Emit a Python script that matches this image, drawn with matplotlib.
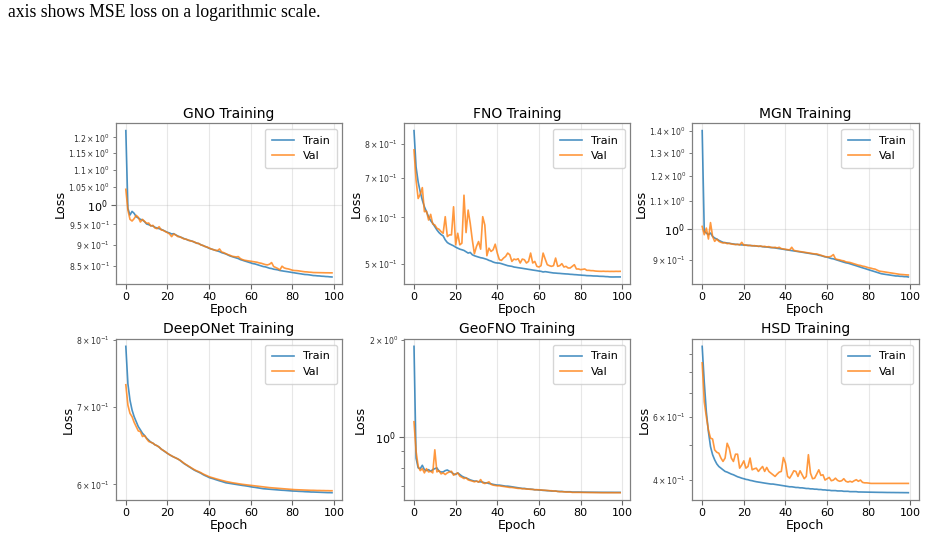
import matplotlib
matplotlib.use("Agg")
import matplotlib.pyplot as plt
import numpy as np

epochs = list(range(100))

models = ["GNO", "FNO", "MGN", "DeepONet", "GeoFNO", "HSD"]

gno_train = [1.222, .992, .9744, .984, .9788, .970, .9666, .9632, .9615, .9572,
             .9512, .9495, .947, .9461, .9428, .9411, .9394, .9377, .9352, .9327,
             .9302, .9286, .9261, .9269, .9236, .9211, .9187, .917, .9146, .913,
             .9105, .9097, .9081, .9056, .904, .9024, .900, .8976, .896, .8936,
             .8912, .8896, .888, .8864, .8849, .8833, .8809, .8794, .8778, .8755,
             .8731, .8716, .870, .8685, .867, .8646, .8631, .8615, .860, .8585,
             .857, .8554, .8546, .8531, .8516, .8501, .8486, .8479, .8464, .8448,
             .8441, .8426, .8419, .8411, .8396, .8389, .8381, .8374, .8367, .8359,
             .8351, .8344, .8336, .8329, .8322, .8314, .8307, .8305, .830, .8292,
             .8284, .8282, .8277, .8275, .8269, .8267, .8262, .8260, .8255, .8252]
gno_val = [1.044, .9876, .9632, .9589, .965, .9736, .9684, .9563, .9632, .958,
           .9529, .9538, .9461, .9478, .9411, .9394, .9444, .936, .9352, .9319,
           .9294, .9261, .9195, .9261, .9236, .9195, .9192, .9162, .9138, .913,
           .9113, .9089, .9081, .9065, .9032, .9030, .8992, .8984, .8952, .8944,
           .892, .8896, .888, .8864, .8857, .8896, .8825, .8809, .8786, .8763,
           .8747, .8724, .8716, .8708, .8716, .867, .8646, .8631, .8623, .8615,
           .8608, .860, .8592, .8585, .857, .8562, .8546, .8531, .8524, .8539,
           .8577, .8486, .8464, .8441, .8411, .8494, .8456, .8441, .8433, .8419,
           .8403, .8396, .8394, .8389, .8381, .8374, .8367, .8365, .8359, .8357,
           .8351, .8350, .8349, .8348, .8347, .8346, .8345, .8345, .8344, .8344]

fno_train = [.8428, .731, .6893, .6631, .642, .6256, .6136, .6018, .5925, .5864,
             .5788, .5714, .5655, .5612, .5582, .5496, .5439, .5411, .539, .5369,
             .5341, .532, .530, .5287, .5273, .5246, .5219, .5232, .5185, .5165,
             .5151, .5138, .5125, .5118, .5105, .5092, .5072, .5059, .5039, .5026,
             .502, .5018, .5007, .4994, .4981, .4968, .4961, .4955, .4942, .4936,
             .4929, .4923, .4917, .491, .4904, .4897, .4891, .4884, .4878, .4872,
             .4865, .4859, .4847, .4853, .4847, .484, .4834, .4828, .4826, .4822,
             .4820, .4816, .4813, .481, .4808, .4803, .4801, .4797, .4795, .4791,
             .4789, .4785, .4783, .4778, .4777, .4776, .4772, .4771, .4770, .4766,
             .4765, .4764, .476, .4759, .4754, .4753, .4753, .4754, .4754, .4754]
fno_val = [.7816, .6938, .6462, .6571, .6743, .6136, .6152, .594, .6073, .5848,
           .5826, .5751, .5729, .5677, .564, .6018, .5568, .5604, .5604, .6256,
           .539, .564, .539, .5425, .6546, .5655, .6176, .5864, .5496, .5205,
           .5355, .546, .530, .6018, .5826, .5165, .532, .5253, .5287, .5404,
           .5219, .5085, .5072, .5118, .5151, .5219, .5185, .5052, .5098, .5085,
           .5105, .502, .5098, .5085, .502, .5052, .5219, .502, .5052, .4955,
           .4942, .4968, .5219, .5098, .4987, .4968, .4955, .4968, .5118, .4955,
           .4968, .5007, .4942, .4955, .4923, .4923, .4955, .4987, .4904, .4904,
           .4891, .4897, .4904, .4878, .4878, .4872, .4872, .4865, .4862, .4860,
           .4859, .4861, .4858, .4859, .4857, .4858, .4857, .4859, .4858, .4859]

mgn_train = [1.403, .9914, .986, .9803, .986, .9747, .9691, .9659, .9615, .9581,
             .9549, .9538, .9527, .9516, .9505, .9495, .9485, .948, .9474, .9464,
             .9464, .9453, .9453, .9442, .9442, .9431, .9431, .9419, .9419, .9409,
             .9398, .9398, .9388, .9377, .9377, .9366, .9355, .9345, .9334, .9323,
             .9312, .9302, .9291, .9281, .9271, .9261, .925, .924, .9229, .9219,
             .9208, .9197, .9186, .9176, .9165, .9155, .9134, .9123, .9103, .9083,
             .9073, .9052, .9031, .9021, .900, .8979, .8959, .8938, .8918, .8899,
             .8888, .8868, .8848, .8828, .8808, .8787, .8767, .8747, .8728, .8708,
             .8688, .8668, .8649, .863, .861, .8591, .8571, .8561, .8551, .8542,
             .8533, .8523, .8514, .8504, .8504, .8494, .8494, .8485, .8485, .8475]
mgn_val = [1.0087, .9803, 1.0029, .9659, 1.0221, .9747, .9581, .9659, .9581, .9549,
           .9527, .9538, .9505, .9516, .9495, .9485, .9474, .9485, .9464, .9549,
           .9453, .9464, .9442, .9453, .9431, .9442, .9431, .9419, .9431, .9409,
           .9419, .9398, .9409, .9388, .9377, .9388, .9366, .9388, .9345, .9334,
           .9323, .9312, .9302, .9388, .9291, .9271, .9261, .925, .924, .9229,
           .9219, .9208, .9197, .9186, .9176, .9176, .9155, .9134, .9113, .9093,
           .9083, .9083, .9103, .9155, .9021, .900, .8989, .8969, .8959, .8928,
           .8918, .8908, .8888, .8868, .8848, .8828, .8818, .8797, .8787, .8767,
           .8747, .8737, .8718, .8708, .8678, .8649, .8639, .863, .862, .861,
           .860, .8591, .8581, .8571, .8561, .8551, .8547, .8542, .8537, .8533]

deeponet_train = [.790, .7333, .7097, .6958, .6867, .6799, .6732, .6689, .6644, .6614,
                  .6579, .6553, .6527, .6514, .6493, .6481, .6463, .6438, .642, .640,
                  .6383, .6366, .635, .6337, .6325, .6312, .6296, .6274, .6254, .6238,
                  .6221, .6205, .6188, .6172, .616, .6148, .6136, .612, .6107, .6096,
                  .6083, .6075, .6068, .6059, .6051, .6043, .6036, .6028, .602, .6016,
                  .6012, .6008, .6004, .600, .5996, .5992, .5988, .5985, .5981, .5977,
                  .5972, .5968, .5965, .5961, .5957, .5953, .5949, .5947, .5945, .5943,
                  .5941, .5939, .5937, .5935, .5933, .5931, .593, .5928, .5926, .5924,
                  .5922, .5921, .592, .5918, .5917, .5916, .5914, .5913, .5912, .591,
                  .591, .5909, .5908, .5907, .5906, .5905, .5904, .5903, .5903, .5902]
deeponet_val = [.7318, .7027, .6913, .6867, .679, .6732, .6675, .6666, .6601, .6614,
                .6571, .6536, .6527, .6514, .6493, .6481, .6463, .6438, .642, .6405,
                .6383, .6366, .6352, .6337, .6325, .6312, .6296, .6278, .6258, .6241,
                .6225, .6209, .6193, .6178, .6165, .6155, .6143, .6128, .6116, .6105,
                .6093, .6085, .6078, .607, .6063, .6056, .6049, .6043, .6036, .6031,
                .6026, .6021, .6017, .6013, .6009, .6005, .6001, .5998, .5995, .5992,
                .5989, .5986, .5983, .598, .5977, .5974, .5971, .5968, .5965, .5962,
                .596, .5958, .5956, .5954, .5952, .595, .5948, .5946, .5944, .5942,
                .594, .5938, .5937, .5936, .5935, .5934, .5933, .5932, .5931, .593,
                .593, .5929, .5928, .5928, .5927, .5927, .5926, .5926, .5925, .5925]

geofno_train = [1.908, .857, .799, .7947, .814, .789, .7836, .789, .780, .789,
                .7947, .799, .780, .7762, .7762, .7836, .7871, .780, .7745, .7654,
                .762, .771, .762, .753, .7473, .744, .7385, .7333, .7299, .727,
                .727, .7231, .7231, .7215, .718, .718, .7145, .7129, .710, .7081,
                .7062, .7062, .7046, .7029, .701, .701, .6996, .698, .6963, .6946,
                .693, .6914, .6898, .6898, .6881, .6865, .6865, .685, .6833, .6833,
                .6817, .6817, .6801, .6801, .6785, .6785, .677, .677, .677, .6752,
                .6752, .6752, .6736, .6736, .6736, .6736, .6721, .6721, .6721, .6721,
                .6718, .6716, .6715, .6714, .6713, .6712, .6711, .671, .6709, .6708,
                .6708, .6707, .6707, .6706, .6706, .6706, .6705, .6705, .6705, .6705]
geofno_val = [1.112, .899, .808, .7836, .7947, .771, .7947, .7762, .780, .771,
              .9095, .7762, .7836, .7654, .771, .762, .771, .7762, .780, .7582,
              .7654, .771, .753, .7473, .7403, .744, .7333, .7299, .727, .7231,
              .727, .7215, .735, .718, .7145, .718, .7231, .710, .7062, .7046,
              .7029, .7029, .701, .6996, .698, .6963, .6946, .6946, .693, .6914,
              .6898, .6898, .6881, .6881, .6865, .6865, .685, .685, .6833, .6833,
              .6833, .6817, .6817, .6801, .6801, .6785, .6785, .677, .677, .6752,
              .6736, .6736, .6736, .6721, .6721, .6721, .6705, .6705, .6705, .6705,
              .6705, .6702, .6700, .6699, .6698, .6697, .6696, .6695, .6694, .6693,
              .669, .669, .669, .669, .669, .669, .669, .669, .669, .669]

hsd_train = [.945, .751, .6196, .5451, .4952, .470, .4547, .4431, .4356, .431,
             .4264, .422, .4201, .4174, .4148, .413, .4103, .4077, .406, .404,
             .4026, .4009, .400, .3983, .3974, .396, .3949, .394, .3932, .3923,
             .3914, .3906, .3898, .389, .389, .3881, .3873, .3865, .3856, .3848,
             .3839, .3831, .3822, .3822, .3814, .3805, .3805, .3796, .3796, .3788,
             .378, .378, .3771, .3771, .3763, .3763, .3755, .3755, .3746, .3746,
             .3738, .3738, .3729, .3729, .3729, .3721, .3721, .3721, .3712, .3712,
             .3712, .3704, .3704, .3704, .3704, .3696, .3696, .3695, .3694, .3693,
             .3692, .3691, .369, .3689, .3688, .3687, .3687, .3686, .3685, .3684,
             .3684, .3683, .3683, .3682, .3682, .3681, .3681, .368, .368, .3679]
hsd_val = [.8496, .6605, .600, .5508, .523, .5201, .4847, .4775, .4745, .460,
           .450, .460, .5059, .490, .460, .450, .4715, .4715, .431, .440,
           .4517, .431, .4356, .460, .4264, .4292, .431, .422, .4292, .4356,
           .422, .4329, .422, .4174, .413, .4086, .4148, .4201, .422, .4615,
           .445, .4086, .404, .413, .4237, .422, .4086, .4237, .413, .4026,
           .4086, .470, .4174, .4026, .404, .4148, .4264, .4113, .413, .3991,
           .4026, .406, .3974, .3991, .404, .3983, .396, .3974, .4026, .396,
           .394, .396, .394, .3974, .400, .396, .3991, .3932, .392, .392,
           .3914, .3906, .3906, .3906, .3906, .3906, .3906, .3906, .3906, .3906,
           .3906, .3906, .3906, .3906, .3906, .3906, .3906, .3906, .3906, .3906]

train_series = [gno_train, fno_train, mgn_train, deeponet_train, geofno_train, hsd_train]
val_series = [gno_val, fno_val, mgn_val, deeponet_val, geofno_val, hsd_val]

fig, axes = plt.subplots(2, 3, figsize=(9.27, 5.38), dpi=100)
fig.subplots_adjust(left=0.1246, right=0.991, bottom=0.0706, top=0.7708,
                    wspace=0.2707, hspace=0.34)

for ax, name, tr, va in zip(axes.flat, models, train_series, val_series):
    ax.plot(epochs, tr, color="#1f77b4", alpha=0.8, lw=1.2, label="Train")
    ax.plot(epochs, va, color="#ff7f0e", alpha=0.8, lw=1.2, label="Val")
    ax.set_yscale("log")
    ax.set_title(f"{name} Training", fontsize=10, pad=4)
    ax.set_xlabel("Epoch", fontsize=9, labelpad=1)
    ax.set_ylabel("Loss", fontsize=9.3, labelpad=1)
    ax.set_xticks([0, 20, 40, 60, 80, 100])
    ax.grid(True, alpha=0.3)
    ax.tick_params(axis="x", labelsize=8, pad=2, colors="0.4", labelcolor="black")
    ax.tick_params(axis="y", which="major", labelsize=8, pad=2, colors="0.4", labelcolor="black")
    ax.tick_params(axis="y", which="minor", labelsize=5.6, pad=2, colors="0.4", labelcolor="#333333")
    for sp in ax.spines.values():
        sp.set_color("0.5")
        sp.set_linewidth(0.9)
    ax.legend(loc="upper right", fontsize=8, borderpad=0.62)

fig.text(8 / 927, 1 - 17 / 538, "axis shows MSE loss on a logarithmic scale.",
         family="Liberation Serif", fontsize=12.7, va="baseline", ha="left")

fig.savefig("out.png", dpi=100)
